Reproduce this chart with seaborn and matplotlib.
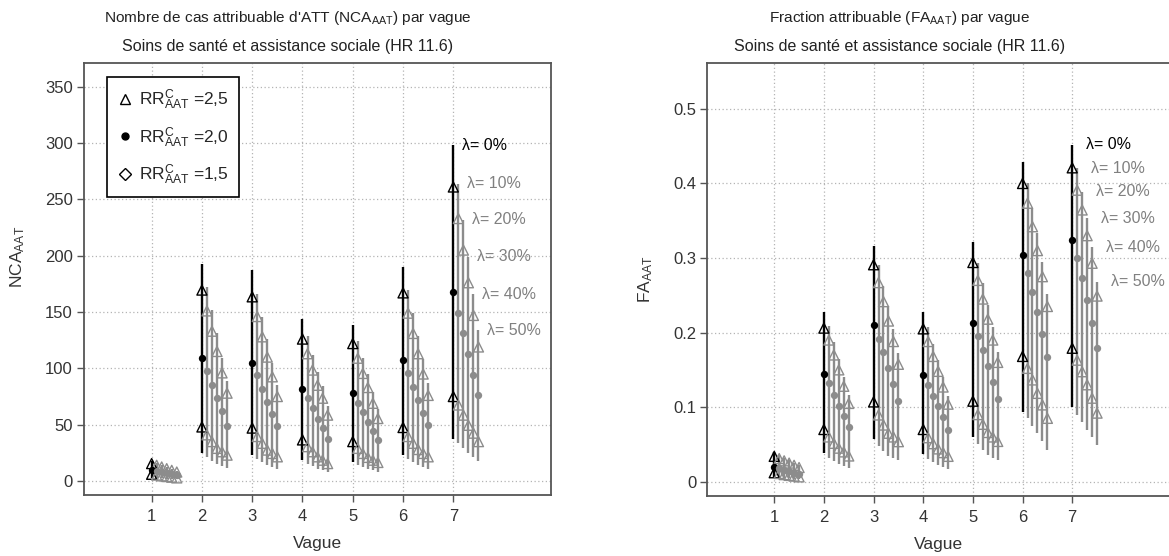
import numpy as np
import pandas as pd
import matplotlib
matplotlib.use("Agg")
import matplotlib.pyplot as plt
import seaborn as sns
from matplotlib.lines import Line2D

waves = [1, 2, 3, 4, 5, 6, 7]
lambdas = [0, 10, 20, 30, 40, 50]

# NCA : one row per wave, one column per lambda (0..50%)
nca_hi = [[15.5, 14, 12.5, 11, 9.5, 8],
          [169.5, 151, 133, 115, 96, 78],
          [163.5, 146, 128, 110, 92.5, 75],
          [126, 113, 98.5, 85, 73.5, 58.5],
          [122, 109, 95.5, 83, 69, 55.5],
          [167, 149, 131, 113, 95, 76],
          [261, 233, 205, 176, 147, 119]]
nca_mid = [[10, 9, 8, 7, 6, 5],
           [109, 97.5, 85, 74, 62.5, 49],
           [105, 94, 82, 70.5, 59.5, 49],
           [81.5, 73.5, 64.5, 55.5, 47, 37.5],
           [78.5, 69.5, 61, 52.5, 44.5, 36],
           [107.5, 95.5, 83.5, 72, 60.5, 49.5],
           [167.5, 149, 131, 112.5, 94, 76]]
nca_lo = [[6, 5.3, 4.6, 4, 3.4, 2.8],
          [48, 41, 35, 29, 26, 23],
          [47, 39.5, 33.5, 27.5, 24.5, 21.5],
          [36.5, 30.5, 26, 21.5, 18.5, 15.5],
          [35, 29, 24.5, 21, 18.5, 16.5],
          [47.5, 39.5, 33.5, 28, 24.5, 21.5],
          [75, 67.5, 58.5, 49.5, 42.5, 35]]
nca_top = [[18, 16, 14.3, 12.5, 10.8, 9.1],
           [193, 172, 152, 131, 109, 89],
           [187, 166, 146, 126, 105, 85.5],
           [144, 129, 112, 97, 84, 67],
           [138.5, 124, 109, 95, 79, 63.5],
           [190, 170, 149, 129, 108, 87],
           [298, 264, 232, 199, 166, 134]]
nca_bot = [[3, 2.7, 2.3, 2, 1.7, 1.4],
           [24.6, 21, 18, 15, 13, 11.5],
           [23, 20, 17, 14.5, 12.5, 11],
           [18.5, 15.5, 13, 11, 9.5, 8],
           [17, 14.5, 12.5, 10.5, 9.5, 8],
           [23, 20, 17, 14, 12.5, 11],
           [37, 33.5, 29, 25, 21, 17.5]]

# FA
fa_hi = [[0.034, 0.031, 0.028, 0.025, 0.022, 0.019],
         [0.206, 0.190, 0.170, 0.150, 0.128, 0.105],
         [0.291, 0.267, 0.2415, 0.2155, 0.188, 0.1575],
         [0.205, 0.188, 0.168, 0.148, 0.127, 0.104],
         [0.294, 0.270, 0.245, 0.218, 0.190, 0.160],
         [0.400, 0.3735, 0.342, 0.310, 0.275, 0.235],
         [0.421, 0.391, 0.3645, 0.330, 0.293, 0.249]]
fa_mid = [[0.020, 0.018, 0.016, 0.014, 0.012, 0.010],
          [0.1445, 0.132, 0.116, 0.102, 0.088, 0.073],
          [0.210, 0.192, 0.1735, 0.152, 0.131, 0.108],
          [0.143, 0.130, 0.115, 0.101, 0.087, 0.070],
          [0.213, 0.195, 0.176, 0.155, 0.134, 0.111],
          [0.304, 0.280, 0.255, 0.228, 0.198, 0.167],
          [0.324, 0.3005, 0.2735, 0.244, 0.2135, 0.179]]
fa_lo = [[0.012, 0.011, 0.0095, 0.0085, 0.0075, 0.0065],
         [0.070, 0.060, 0.0515, 0.045, 0.040, 0.0345],
         [0.107, 0.0895, 0.076, 0.065, 0.060, 0.0537],
         [0.070, 0.059, 0.051, 0.044, 0.039, 0.034],
         [0.108, 0.090, 0.077, 0.066, 0.060, 0.054],
         [0.168, 0.152, 0.1365, 0.1185, 0.103, 0.085],
         [0.179, 0.163, 0.1475, 0.130, 0.112, 0.092]]
fa_top = [[0.040, 0.036, 0.032, 0.029, 0.025, 0.022],
          [0.228, 0.209, 0.187, 0.165, 0.141, 0.116],
          [0.316, 0.290, 0.263, 0.235, 0.205, 0.172],
          [0.227, 0.207, 0.185, 0.163, 0.140, 0.115],
          [0.321, 0.294, 0.267, 0.237, 0.207, 0.174],
          [0.429, 0.401, 0.367, 0.333, 0.295, 0.252],
          [0.452, 0.4205, 0.389, 0.3535, 0.3145, 0.268]]
fa_bot = [[0.006, 0.0055, 0.005, 0.0045, 0.004, 0.0035],
          [0.038, 0.032, 0.028, 0.024, 0.021, 0.018],
          [0.057, 0.048, 0.041, 0.035, 0.032, 0.029],
          [0.037, 0.031, 0.027, 0.023, 0.020, 0.017],
          [0.060, 0.050, 0.042, 0.036, 0.032, 0.029],
          [0.094, 0.085, 0.075, 0.065, 0.055, 0.0425],
          [0.1005, 0.090, 0.080, 0.070, 0.060, 0.049]]

GREY = "#8c8c8c"


def make_df(hi, mid, lo, top, bot):
    rows = []
    for i, w in enumerate(waves):
        for j, lam in enumerate(lambdas):
            rows.append(dict(wave=w, lam=lam, x=w + lam / 100.0,
                             hi=hi[i][j], mid=mid[i][j], lo=lo[i][j],
                             top=top[i][j], bot=bot[i][j]))
    return pd.DataFrame(rows)


def open_marks(ax, c):
    coll = ax.collections[-1]
    coll.set_facecolor("none")
    coll.set_edgecolor(c)
    coll.set_linewidth(1.0)


def draw_panel(ax, df, label_dx):
    for lam in lambdas:
        sub = df[df.lam == lam]
        c = "black" if lam == 0 else GREY
        ax.vlines(sub.x, sub.bot, sub.top, color=c, lw=1.7, zorder=2)
        sns.scatterplot(data=sub, x="x", y="hi", marker="^", s=52, color=c,
                        ax=ax, zorder=3, legend=False)
        open_marks(ax, c)
        sns.scatterplot(data=sub, x="x", y="lo", marker="^", s=52, color=c,
                        ax=ax, zorder=3, legend=False)
        open_marks(ax, c)
        sns.scatterplot(data=sub, x="x", y="mid", marker="o", s=28, color=c,
                        edgecolor=c, linewidth=0, ax=ax, zorder=4, legend=False)
    # lambda labels next to the last wave
    last = df[df.wave == waves[-1]]
    for _, r in last.iterrows():
        c = "black" if r.lam == 0 else "#808080"
        ax.annotate("\u03bb= %d%%" % r.lam, (r.x, r.top), xytext=(label_dx, 0),
                    textcoords="offset points", ha="left", va="center",
                    fontsize=11.5, color=c)


sns.set_theme(style="ticks")
plt.rcParams["font.family"] = ["Liberation Sans", "DejaVu Sans"]
plt.rcParams["mathtext.fontset"] = "custom"
plt.rcParams["mathtext.rm"] = "Liberation Sans"
plt.rcParams["mathtext.it"] = "Liberation Sans:italic"
plt.rcParams["mathtext.default"] = "regular"

fig = plt.figure(figsize=(11.69, 5.56), dpi=100)
ax1 = fig.add_axes([0.0719, 0.1097, 0.3995, 0.7775])
ax2 = fig.add_axes([0.6052, 0.1079, 0.3946, 0.7793])

df_nca = make_df(nca_hi, nca_mid, nca_lo, nca_top, nca_bot)
df_fa = make_df(fa_hi, fa_mid, fa_lo, fa_top, fa_bot)

draw_panel(ax1, df_nca, 6.5)
draw_panel(ax2, df_fa, 10)

for ax in (ax1, ax2):
    ax.set_xlim(-0.344, 8.944)
    ax.set_xticks(waves)
    ax.grid(True, ls=(0, (1, 2)), color="#b4b4b4", lw=0.9)
    ax.set_axisbelow(True)
    for s in ax.spines.values():
        s.set_color("#555555")
        s.set_linewidth(1.3)
    ax.tick_params(length=5, width=1, color="#555555", labelsize=12,
                   labelcolor="#333333", pad=3)
    ax.tick_params(axis="x", pad=5)
    ax.set_xlabel("Vague", fontsize=12.5, color="#333333")
    ax.xaxis.set_label_coords(0.5, -0.095)
    ax.xaxis.label.set_va("top")
ax2.spines["right"].set_visible(False)

ax1.set_ylim(-12.4, 371.3)
ax1.set_yticks(np.arange(0, 351, 50))
ax1.set_ylabel("NCA$_{AAT}$", fontsize=12.5, color="#333333")
ax1.yaxis.set_label_coords(-0.122, 0.55)

ax2.set_ylim(-0.0192, 0.562)
ax2.set_yticks([0, 0.1, 0.2, 0.3, 0.4, 0.5])
ax2.set_yticklabels(["0", "0.1", "0.2", "0.3", "0.4", "0.5"])
ax2.set_ylabel("FA$_{AAT}$", fontsize=12.5, color="#333333")
ax2.yaxis.set_label_coords(-0.114, 0.5)

handles = [Line2D([], [], marker="^", ls="none", mfc="none", mec="black", ms=7),
           Line2D([], [], marker="o", ls="none", mfc="black", mec="black", ms=5),
           Line2D([], [], marker="D", ls="none", mfc="none", mec="black", ms=6)]
labels = ["RR$^{C}_{AAT}$ =2,5", "RR$^{C}_{AAT}$ =2,0", "RR$^{C}_{AAT}$ =1,5"]
leg = ax1.legend(handles, labels, loc="upper left", bbox_to_anchor=(0.0486, 0.966),
                 borderaxespad=0, frameon=True, fancybox=False, framealpha=1,
                 edgecolor="black", fontsize=12.5, handlelength=0.9,
                 handletextpad=0.35, labelspacing=0.75, borderpad=0.6)
leg.get_frame().set_linewidth(1.2)

fig.text(288 / 1169, 1 - 18 / 556, "Nombre de cas attribuable d'ATT (NCA$_{AAT}$) par vague",
         ha="center", va="center", fontsize=11.1, color="#222222")
fig.text(288 / 1169, 1 - 46.5 / 556, "Soins de santé et assistance sociale (HR 11.6)",
         ha="center", va="center", fontsize=11.5, color="#222222")
fig.text(900 / 1169, 1 - 18 / 556, "Fraction attribuable (FA$_{AAT}$) par vague",
         ha="center", va="center", fontsize=11.1, color="#222222")
fig.text(900 / 1169, 1 - 46.5 / 556, "Soins de santé et assistance sociale (HR 11.6)",
         ha="center", va="center", fontsize=11.5, color="#222222")

fig.savefig("out.png", dpi=100)
